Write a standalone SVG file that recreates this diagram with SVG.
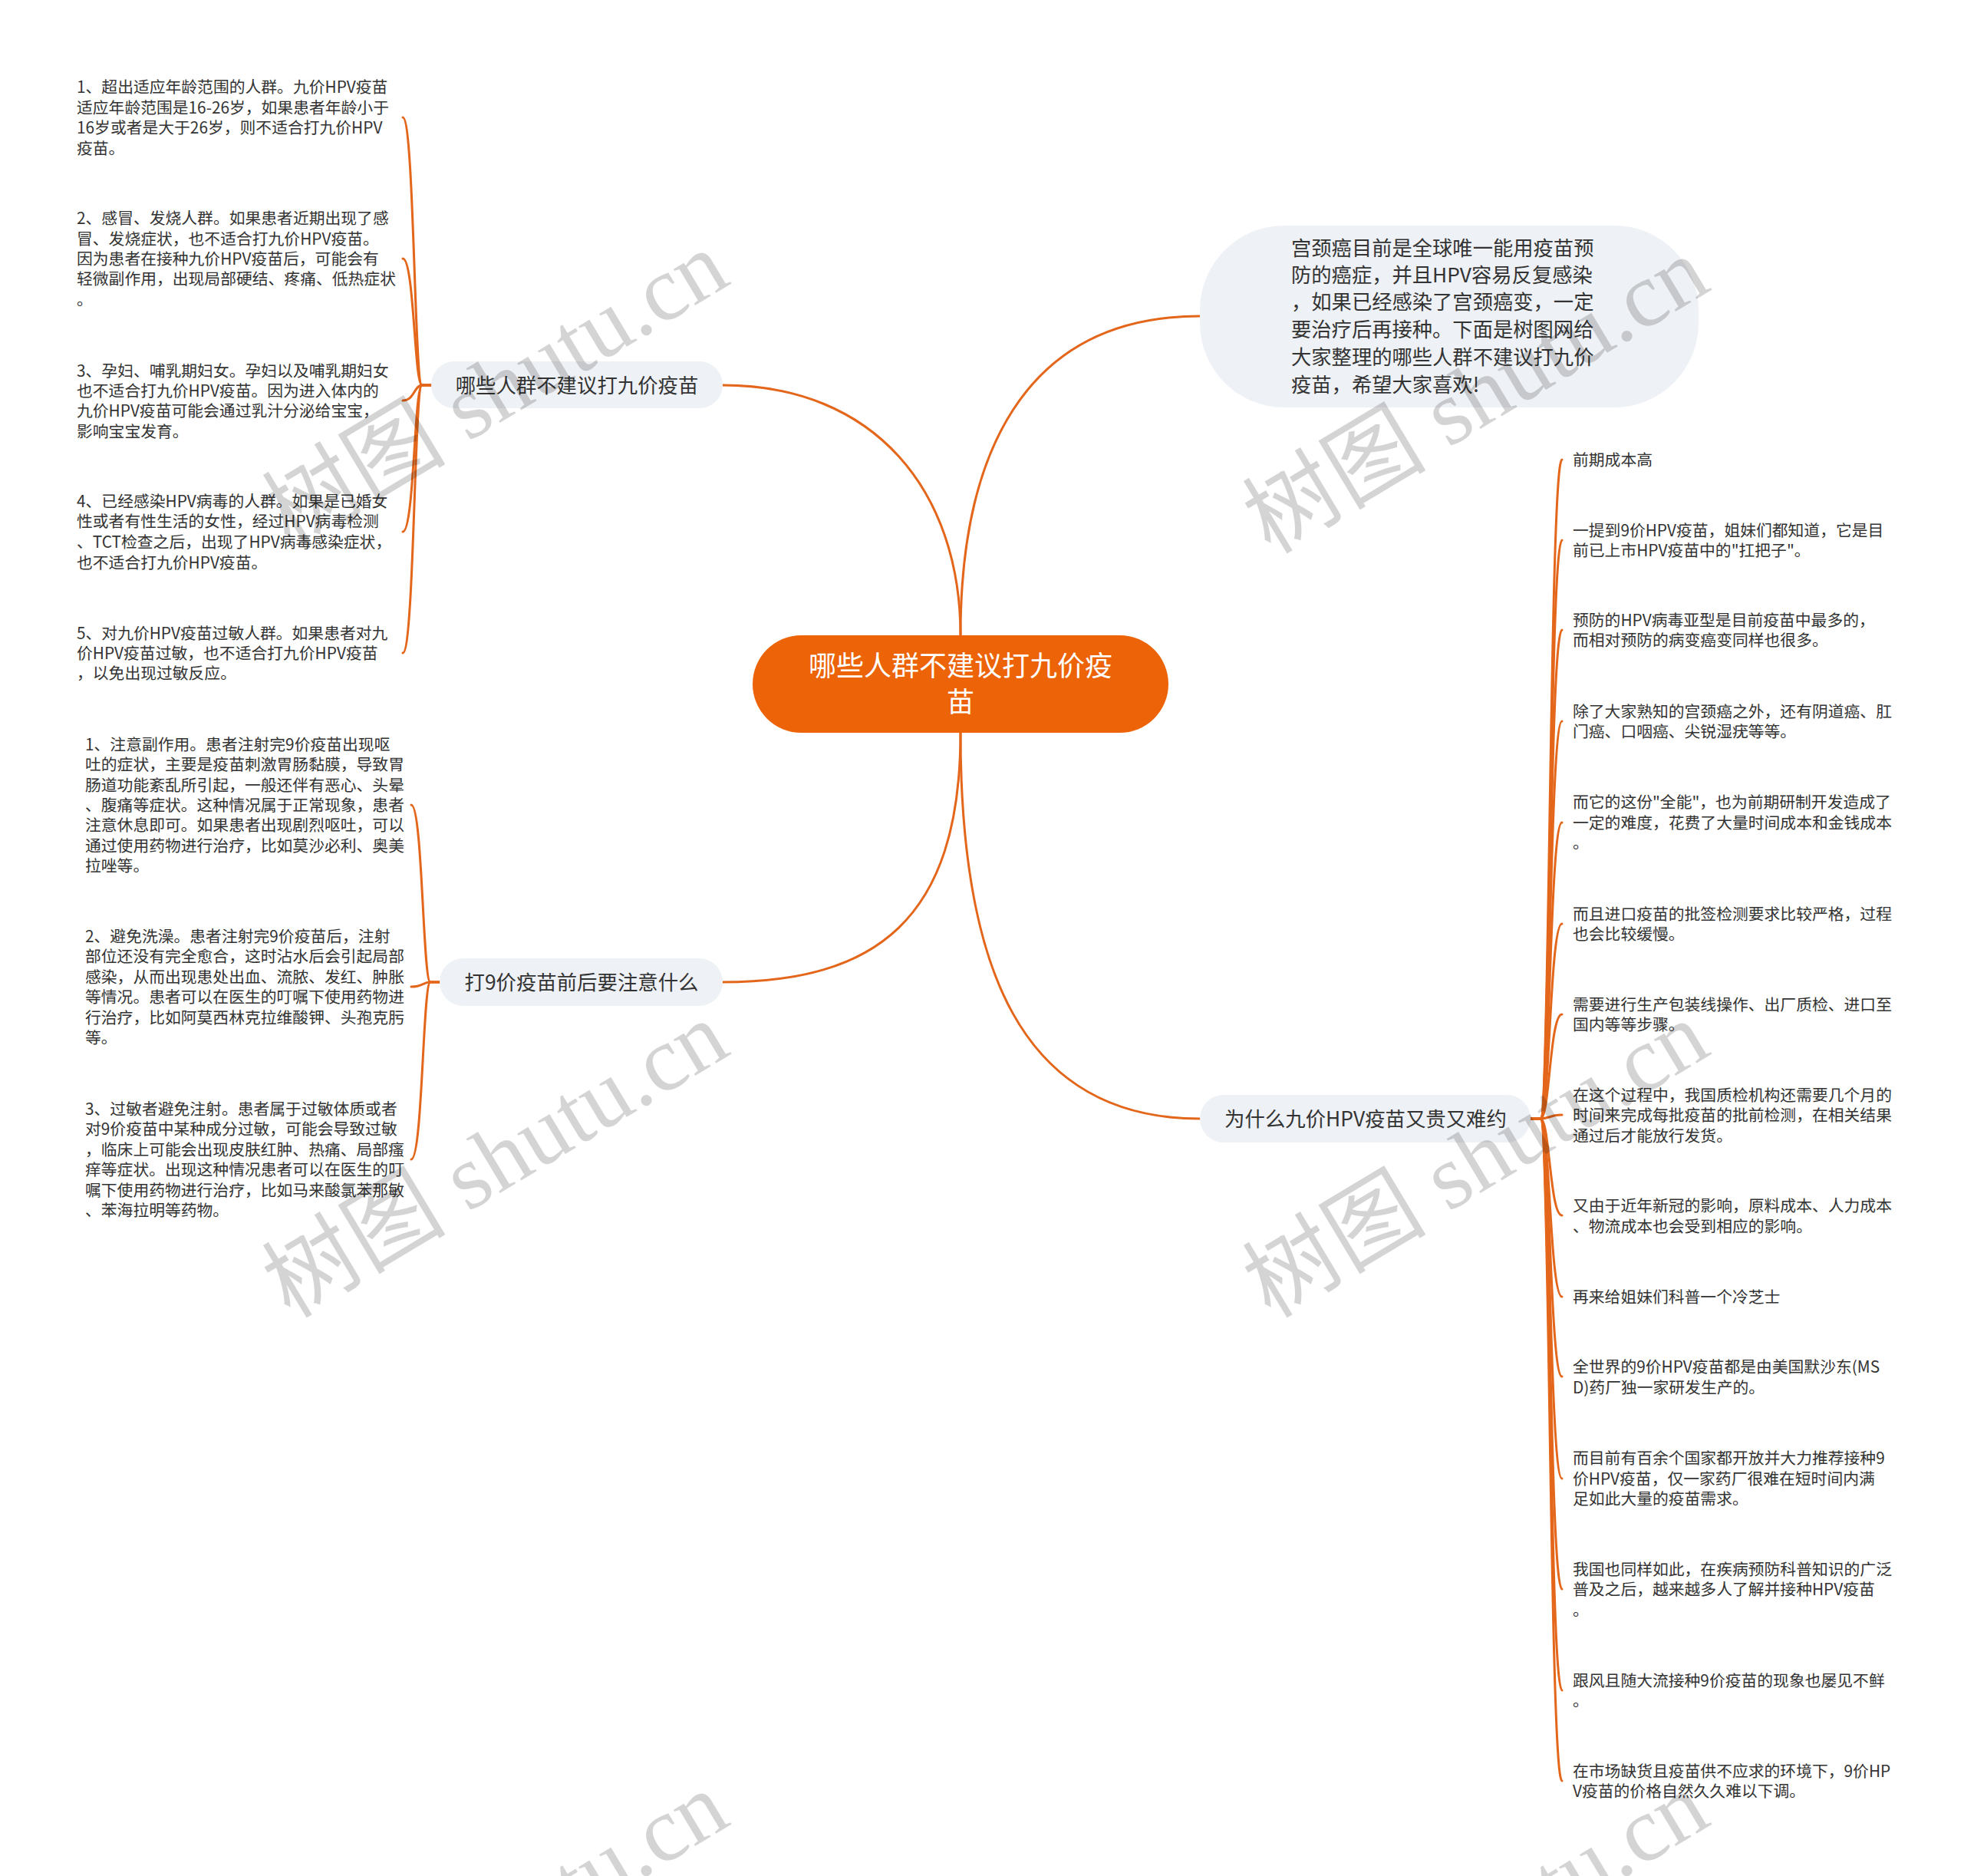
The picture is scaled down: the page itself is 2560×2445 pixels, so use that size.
<svg xmlns="http://www.w3.org/2000/svg" width="2560" height="2445" viewBox="0 0 2560 2445">
<style>
.conn{fill:none;stroke:#E3661B;stroke-width:3;stroke-linecap:round}
.t{font-family:"Noto Sans CJK SC","Noto Sans",sans-serif;fill:#333}
.leaf{font-size:20.8px}
.bn{fill:#EEF1F5}
.bt{font-size:26.4px;text-anchor:middle}
.it{font-size:26.3px}
.ct{font-size:36px;fill:#fff;text-anchor:middle}
.wm{font-family:"Liberation Serif","Noto Sans CJK SC",serif;font-size:120px;fill:#000;fill-opacity:.17;text-anchor:middle}
</style>
<rect width="2560" height="2445" fill="#fff"/>
<g id="connectors">
<path class="conn" d="M1252,828 C1252,640 1140,502 942,502"/>
<path class="conn" d="M1252,828 C1252,600 1330,412 1564,412"/>
<path class="conn" d="M1252,955 C1252,1200 1140,1280 942,1280"/>
<path class="conn" d="M1252,955 C1252,1260 1330,1458 1564,1458"/>
<path class="conn" d="M562,502 H550 C540,502 540,153 525,153"/>
<path class="conn" d="M562,502 H550 C540,502 540,337 525,337"/>
<path class="conn" d="M562,502 H550 C540,502 540,522 525,522"/>
<path class="conn" d="M562,502 H550 C540,502 540,693 525,693"/>
<path class="conn" d="M562,502 H550 C540,502 540,851 525,851"/>
<path class="conn" d="M573,1280 H561 C551,1280 551,1049 536,1049"/>
<path class="conn" d="M573,1280 H561 C551,1280 551,1286 536,1286"/>
<path class="conn" d="M573,1280 H561 C551,1280 551,1511 536,1511"/>
<path class="conn" d="M1995,1458 H2008 C2020,1458 2020,599 2036,599"/>
<path class="conn" d="M1995,1458 H2008 C2020,1458 2020,704 2036,704"/>
<path class="conn" d="M1995,1458 H2008 C2020,1458 2020,821 2036,821"/>
<path class="conn" d="M1995,1458 H2008 C2020,1458 2020,940 2036,940"/>
<path class="conn" d="M1995,1458 H2008 C2020,1458 2020,1072 2036,1072"/>
<path class="conn" d="M1995,1458 H2008 C2020,1458 2020,1204 2036,1204"/>
<path class="conn" d="M1995,1458 H2008 C2020,1458 2020,1322 2036,1322"/>
<path class="conn" d="M1995,1458 H2008 C2020,1458 2020,1453 2036,1453"/>
<path class="conn" d="M1995,1458 H2008 C2020,1458 2020,1584 2036,1584"/>
<path class="conn" d="M1995,1458 H2008 C2020,1458 2020,1690 2036,1690"/>
<path class="conn" d="M1995,1458 H2008 C2020,1458 2020,1794 2036,1794"/>
<path class="conn" d="M1995,1458 H2008 C2020,1458 2020,1927 2036,1927"/>
<path class="conn" d="M1995,1458 H2008 C2020,1458 2020,2071 2036,2071"/>
<path class="conn" d="M1995,1458 H2008 C2020,1458 2020,2203 2036,2203"/>
<path class="conn" d="M1995,1458 H2008 C2020,1458 2020,2321 2036,2321"/>
</g>
<g id="center">
<rect x="981" y="828" width="542" height="127" rx="63.5" fill="#EC6308"/>
<text class="t ct"><tspan x="1252" y="881">哪些人群不建议打九价疫</tspan><tspan x="1252" y="928">苗</tspan></text>
</g>
<g id="intro">
<rect class="bn" x="1564" y="294" width="650" height="237" rx="110"/>
<text class="t it"><tspan x="1683" y="333">宫颈癌目前是全球唯一能用疫苗预</tspan><tspan x="1683" y="368">防的癌症，并且HPV容易反复感染</tspan><tspan x="1683" y="403">，如果已经感染了宫颈癌变，一定</tspan><tspan x="1683" y="439">要治疗后再接种。下面是树图网给</tspan><tspan x="1683" y="475">大家整理的哪些人群不建议打九价</tspan><tspan x="1683" y="511">疫苗，希望大家喜欢!</tspan></text>
</g>
<g id="b1">
<rect class="bn" x="562" y="471" width="380" height="61" rx="30.5"/>
<text class="t bt" x="752" y="512">哪些人群不建议打九价疫苗</text>
</g>
<g id="b2">
<rect class="bn" x="573" y="1249" width="369" height="62" rx="31"/>
<text class="t bt" x="758" y="1290">打9价疫苗前后要注意什么</text>
</g>
<g id="b3">
<rect class="bn" x="1564" y="1427" width="431" height="62" rx="31"/>
<text class="t bt" x="1780" y="1468">为什么九价HPV疫苗又贵又难约</text>
</g>
<g id="b1-l1"><text class="t leaf"><tspan x="100" y="121">1、超出适应年龄范围的人群。九价HPV疫苗</tspan><tspan x="100" y="148">适应年龄范围是16-26岁，如果患者年龄小于</tspan><tspan x="100" y="174">16岁或者是大于26岁，则不适合打九价HPV</tspan><tspan x="100" y="201">疫苗。</tspan></text></g>
<g id="b1-l2"><text class="t leaf"><tspan x="100" y="292">2、感冒、发烧人群。如果患者近期出现了感</tspan><tspan x="100" y="319">冒、发烧症状，也不适合打九价HPV疫苗。</tspan><tspan x="100" y="345">因为患者在接种九价HPV疫苗后，可能会有</tspan><tspan x="100" y="371">轻微副作用，出现局部硬结、疼痛、低热症状</tspan><tspan x="100" y="398">。</tspan></text></g>
<g id="b1-l3"><text class="t leaf"><tspan x="100" y="491">3、孕妇、哺乳期妇女。孕妇以及哺乳期妇女</tspan><tspan x="100" y="517">也不适合打九价HPV疫苗。因为进入体内的</tspan><tspan x="100" y="543">九价HPV疫苗可能会通过乳汁分泌给宝宝，</tspan><tspan x="100" y="570">影响宝宝发育。</tspan></text></g>
<g id="b1-l4"><text class="t leaf"><tspan x="100" y="661">4、已经感染HPV病毒的人群。如果是已婚女</tspan><tspan x="100" y="687">性或者有性生活的女性，经过HPV病毒检测</tspan><tspan x="100" y="714">、TCT检查之后，出现了HPV病毒感染症状，</tspan><tspan x="100" y="741">也不适合打九价HPV疫苗。</tspan></text></g>
<g id="b1-l5"><text class="t leaf"><tspan x="100" y="833">5、对九价HPV疫苗过敏人群。如果患者对九</tspan><tspan x="100" y="859">价HPV疫苗过敏，也不适合打九价HPV疫苗</tspan><tspan x="100" y="885">，以免出现过敏反应。</tspan></text></g>
<g id="b2-l1"><text class="t leaf"><tspan x="111" y="978">1、注意副作用。患者注射完9价疫苗出现呕</tspan><tspan x="111" y="1004">吐的症状，主要是疫苗刺激胃肠黏膜，导致胃</tspan><tspan x="111" y="1031">肠道功能紊乱所引起，一般还伴有恶心、头晕</tspan><tspan x="111" y="1057">、腹痛等症状。这种情况属于正常现象，患者</tspan><tspan x="111" y="1083">注意休息即可。如果患者出现剧烈呕吐，可以</tspan><tspan x="111" y="1110">通过使用药物进行治疗，比如莫沙必利、奥美</tspan><tspan x="111" y="1136">拉唑等。</tspan></text></g>
<g id="b2-l2"><text class="t leaf"><tspan x="111" y="1228">2、避免洗澡。患者注射完9价疫苗后，注射</tspan><tspan x="111" y="1254">部位还没有完全愈合，这时沾水后会引起局部</tspan><tspan x="111" y="1281">感染，从而出现患处出血、流脓、发红、肿胀</tspan><tspan x="111" y="1307">等情况。患者可以在医生的叮嘱下使用药物进</tspan><tspan x="111" y="1334">行治疗，比如阿莫西林克拉维酸钾、头孢克肟</tspan><tspan x="111" y="1360">等。</tspan></text></g>
<g id="b2-l3"><text class="t leaf"><tspan x="111" y="1453">3、过敏者避免注射。患者属于过敏体质或者</tspan><tspan x="111" y="1479">对9价疫苗中某种成分过敏，可能会导致过敏</tspan><tspan x="111" y="1506">，临床上可能会出现皮肤红肿、热痛、局部瘙</tspan><tspan x="111" y="1532">痒等症状。出现这种情况患者可以在医生的叮</tspan><tspan x="111" y="1559">嘱下使用药物进行治疗，比如马来酸氯苯那敏</tspan><tspan x="111" y="1585">、苯海拉明等药物。</tspan></text></g>
<g id="b3-l1"><text class="t leaf"><tspan x="2050" y="607">前期成本高</tspan></text></g>
<g id="b3-l2"><text class="t leaf"><tspan x="2050" y="699">一提到9价HPV疫苗，姐妹们都知道，它是目</tspan><tspan x="2050" y="725">前已上市HPV疫苗中的"扛把子"。</tspan></text></g>
<g id="b3-l3"><text class="t leaf"><tspan x="2050" y="816">预防的HPV病毒亚型是目前疫苗中最多的，</tspan><tspan x="2050" y="842">而相对预防的病变癌变同样也很多。</tspan></text></g>
<g id="b3-l4"><text class="t leaf"><tspan x="2050" y="935">除了大家熟知的宫颈癌之外，还有阴道癌、肛</tspan><tspan x="2050" y="961">门癌、口咽癌、尖锐湿疣等等。</tspan></text></g>
<g id="b3-l5"><text class="t leaf"><tspan x="2050" y="1053">而它的这份"全能"，也为前期研制开发造成了</tspan><tspan x="2050" y="1080">一定的难度，花费了大量时间成本和金钱成本</tspan><tspan x="2050" y="1106">。</tspan></text></g>
<g id="b3-l6"><text class="t leaf"><tspan x="2050" y="1199">而且进口疫苗的批签检测要求比较严格，过程</tspan><tspan x="2050" y="1225">也会比较缓慢。</tspan></text></g>
<g id="b3-l7"><text class="t leaf"><tspan x="2050" y="1317">需要进行生产包装线操作、出厂质检、进口至</tspan><tspan x="2050" y="1343">国内等等步骤。</tspan></text></g>
<g id="b3-l8"><text class="t leaf"><tspan x="2050" y="1435">在这个过程中，我国质检机构还需要几个月的</tspan><tspan x="2050" y="1461">时间来完成每批疫苗的批前检测，在相关结果</tspan><tspan x="2050" y="1488">通过后才能放行发货。</tspan></text></g>
<g id="b3-l9"><text class="t leaf"><tspan x="2050" y="1579">又由于近年新冠的影响，原料成本、人力成本</tspan><tspan x="2050" y="1606">、物流成本也会受到相应的影响。</tspan></text></g>
<g id="b3-l10"><text class="t leaf"><tspan x="2050" y="1698">再来给姐妹们科普一个冷芝士</tspan></text></g>
<g id="b3-l11"><text class="t leaf"><tspan x="2050" y="1789">全世界的9价HPV疫苗都是由美国默沙东(MS</tspan><tspan x="2050" y="1816">D)药厂独一家研发生产的。</tspan></text></g>
<g id="b3-l12"><text class="t leaf"><tspan x="2050" y="1908">而目前有百余个国家都开放并大力推荐接种9</tspan><tspan x="2050" y="1935">价HPV疫苗，仅一家药厂很难在短时间内满</tspan><tspan x="2050" y="1961">足如此大量的疫苗需求。</tspan></text></g>
<g id="b3-l13"><text class="t leaf"><tspan x="2050" y="2053">我国也同样如此，在疾病预防科普知识的广泛</tspan><tspan x="2050" y="2079">普及之后，越来越多人了解并接种HPV疫苗</tspan><tspan x="2050" y="2106">。</tspan></text></g>
<g id="b3-l14"><text class="t leaf"><tspan x="2050" y="2198">跟风且随大流接种9价疫苗的现象也屡见不鲜</tspan><tspan x="2050" y="2224">。</tspan></text></g>
<g id="b3-l15"><text class="t leaf"><tspan x="2050" y="2316">在市场缺货且疫苗供不应求的环境下，9价HP</tspan><tspan x="2050" y="2342">V疫苗的价格自然久久难以下调。</tspan></text></g>
<g id="watermarks">
<text class="wm" transform="translate(645,506) rotate(-31)" y="42">树图 shutu.cn</text>
<text class="wm" transform="translate(1923,514) rotate(-31)" y="42">树图 shutu.cn</text>
<text class="wm" transform="translate(645,1510) rotate(-31)" y="42">树图 shutu.cn</text>
<text class="wm" transform="translate(1923,1510) rotate(-31)" y="42">树图 shutu.cn</text>
<text class="wm" transform="translate(645,2514) rotate(-31)" y="42">树图 shutu.cn</text>
<text class="wm" transform="translate(1923,2514) rotate(-31)" y="42">树图 shutu.cn</text>
</g>
</svg>
